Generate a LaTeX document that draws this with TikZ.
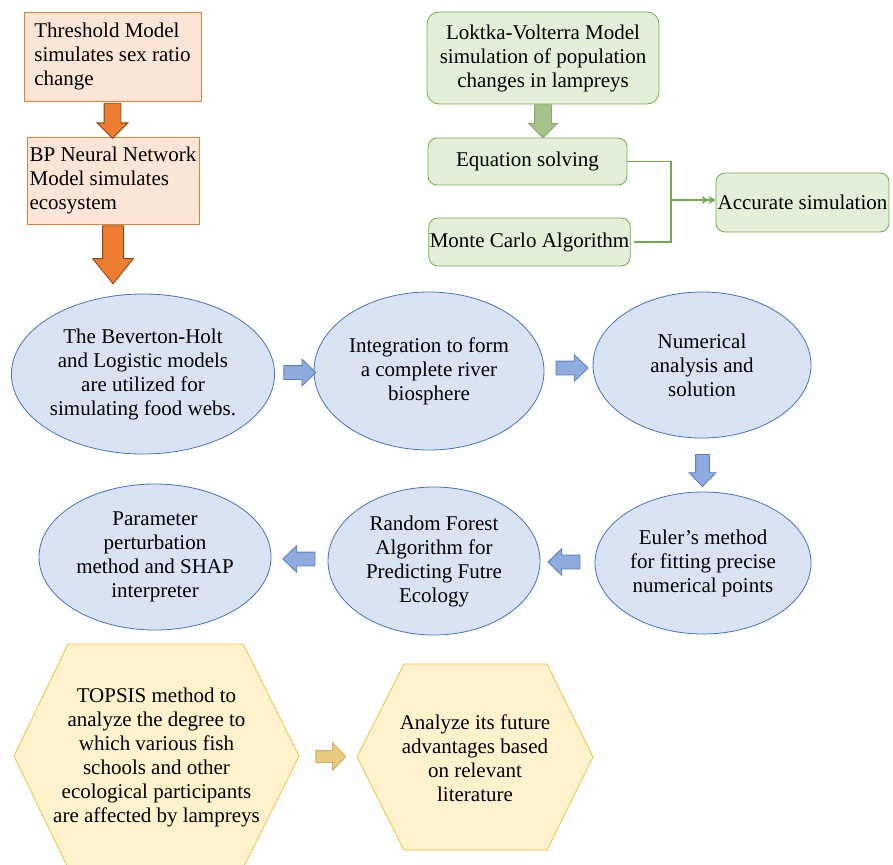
\documentclass[tikz,border=0pt]{standalone}
\usepackage{fontspec}
\setmainfont{Liberation Serif}
\usepackage{xcolor}
\usetikzlibrary{shapes.geometric, shapes.arrows, arrows.meta, calc}
\definecolor{ofill}{HTML}{FBE5D6}
\definecolor{oline}{HTML}{ED7D31}
\definecolor{oarr}{HTML}{ED7D31}
\definecolor{oarrline}{HTML}{8E4314}
\definecolor{gfill}{HTML}{E2F0D9}
\definecolor{gline}{HTML}{70AD47}
\definecolor{garr}{HTML}{A5C28A}
\definecolor{garrline}{HTML}{86A96A}
\definecolor{bfill}{HTML}{DAE3F3}
\definecolor{bline}{HTML}{4472C4}
\definecolor{barr}{HTML}{8FAADC}
\definecolor{barrline}{HTML}{5B7FC0}
\definecolor{yfill}{HTML}{FFF2CC}
\definecolor{yline}{HTML}{F5C242}
\definecolor{yarr}{HTML}{E8CB80}
\definecolor{yarrline}{HTML}{D4AF4F}

\begin{document}
\begin{tikzpicture}[x=1pt,y=-1pt,
  every node/.style={font=\rmfamily\fontsize{21}{24}\selectfont},
  obox/.style={draw=oline,fill=ofill,line width=0.8pt,inner sep=1pt,align=left},
  gbox/.style={draw=gline,fill=gfill,line width=0.8pt,rounded corners=9pt,inner sep=1pt,align=center},
  bell/.style={ellipse,draw=bline,fill=bfill,line width=0.8pt,inner sep=0pt,align=center},
  hexbox/.style={draw=yline,fill=yfill,line width=0.8pt},
  blockarrow/.style={single arrow,inner xsep=0pt,line width=0.8pt},
  bluearrow/.style={blockarrow,draw=barrline,fill=barr,inner ysep=6.5pt,minimum width=26pt,minimum height=32pt,
    single arrow head extend=6.5pt,single arrow tip angle=88},
  gconn/.style={draw=gline,line width=1.3pt}]
\useasboundingbox (0,0) rectangle (893,864);
\clip (0,0) rectangle (893,864);

\node[obox,minimum width=177pt,minimum height=89pt] (thresh) at (112.5,56.5) {Threshold Model\\simulates sex ratio\\change};
\node[obox,minimum width=172pt,minimum height=87pt] (bpnn) at (113,180.5) {BP Neural Network\\Model simulates\\ecosystem};
\node[blockarrow,draw=oarrline,fill=oarr,rotate=-90,anchor=tail,inner ysep=8pt,minimum width=30pt,minimum height=35pt,
  single arrow head extend=7pt,single arrow tip angle=90] (oa1) at ($(thresh.south)+(0,1.5)$) {};
\node[blockarrow,draw=oarrline,fill=oarr,rotate=-90,anchor=tail,inner ysep=10pt,minimum width=40pt,minimum height=58pt,
  single arrow head extend=10pt,single arrow tip angle=78] (oa2) at ($(bpnn.south)+(0,1)$) {};

\node[gbox,minimum width=232pt,minimum height=92pt,rounded corners=12pt] (lv) at (543,58) {Loktka-Volterra Model\\simulation of population\\changes in lampreys};
\node[gbox,minimum width=199pt,minimum height=47pt] (eq) at (527.5,161.5) {Equation solving};
\node[gbox,minimum width=201pt,minimum height=48pt] (mc) at (529.5,242) {Monte Carlo Algorithm};
\node[gbox,minimum width=173pt,minimum height=59pt] (acc) at (802.5,202.5) {Accurate simulation};
\node[blockarrow,draw=garrline,fill=garr,rotate=-90,anchor=tail,inner ysep=8pt,minimum width=28pt,minimum height=33pt,
  single arrow head extend=6pt,single arrow tip angle=90] (ga) at (lv.south) {};
\coordinate (gjoin) at (671,200);
\draw[gconn] (eq.east) -| (gjoin);
\draw[gconn] ($(mc.east)+(3,0)$) -| (gjoin);
\draw[gconn,-{Stealth[length=7pt,width=8pt]Stealth[length=7pt,width=8pt]}] (gjoin) -- (gjoin -| acc.west);

\node[bell,minimum width=256pt,minimum height=160pt] (bh) at (143,374) {The Beverton-Holt\\and Logistic models\\are utilized for\\simulating food webs.};
\node[bell,minimum width=230pt,minimum height=158pt] (river) at (429,371) {Integration to form\\a complete river\\biosphere};
\node[bell,minimum width=218pt,minimum height=146pt] (numer) at (702,365) {Numerical\\analysis and\\solution};
\node[bell,minimum width=216pt,minimum height=142pt] (euler) at (703,563) {Euler’s method\\for fitting precise\\numerical points};
\node[bell,minimum width=212pt,minimum height=148pt] (forest) at (434,561) {Random Forest\\Algorithm for\\Predicting Futre\\Ecology};
\node[bell,minimum width=232pt,minimum height=146pt] (shap) at (155,557) {Parameter\\perturbation\\method and SHAP\\interpreter};

\node[bluearrow] (ba1) at ($(bh.east)!0.5!(river.west)+(2,0)$) {};
\node[bluearrow] (ba2) at ($(river.east)!0.5!(numer.west)$) {};
\node[bluearrow,rotate=-90] (ba3) at ($(numer.south)!0.5!(euler.north)+(0,2)$) {};
\node[bluearrow,rotate=180] (ba4) at ($(euler.west)!0.5!(forest.east)$) {};
\node[bluearrow,rotate=180] (ba5) at ($(forest.west)!0.5!(shap.east)+(3,0)$) {};

\draw[hexbox] (14,756) -- (68,644) -- (243,644) -- (299,756) -- (243,868) -- (68,868) -- cycle;
\draw[hexbox] (357,757) -- (404,664) -- (547,664) -- (593,757) -- (547,850) -- (404,850) -- cycle;
\coordinate (topsisE) at (299,756);
\coordinate (futureW) at (357,757);
\node[align=center,inner sep=0pt] (topsis) at (156.5,757) {TOPSIS method to\\analyze the degree to\\which various fish\\schools and other\\ecological participants\\are affected by lampreys};
\node[align=center,inner sep=0pt] (future) at (475,758) {Analyze its future\\advantages based\\on relevant\\literature};
\node[blockarrow,draw=yarrline,fill=yarr,inner ysep=5.5pt,minimum width=27pt,minimum height=30pt,
  single arrow head extend=8pt,single arrow tip angle=92] (ya) at ($(topsisE)!0.5!(futureW)$) {};
\end{tikzpicture}
\end{document}
